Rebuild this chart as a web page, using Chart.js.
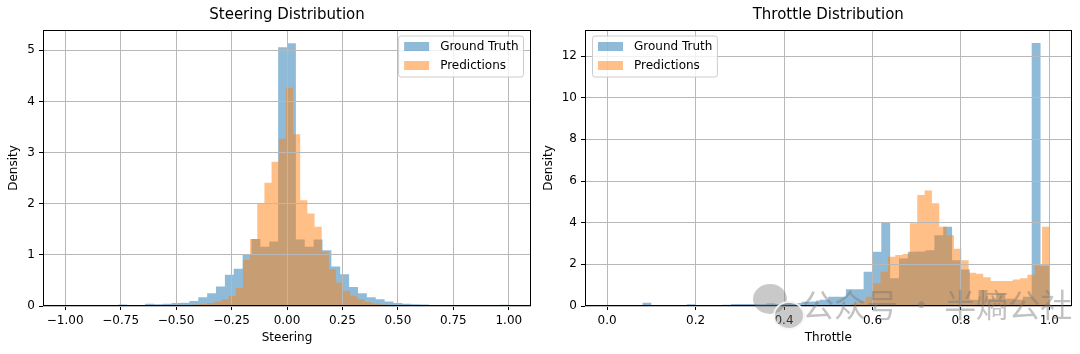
<!DOCTYPE html>
<html><head><meta charset="utf-8">
<script src="https://cdn.jsdelivr.net/npm/chart.js@4.4.0/dist/chart.umd.min.js"></script>
<style>
html,body{margin:0;padding:0;background:#fff;}
#wrap{position:relative;width:1080px;height:354px;overflow:hidden;background:#fff;}
canvas{position:absolute;top:0;}
#c1{left:0px}
#c2{left:540px}
#wm{position:absolute;left:802px;top:285px;font-family:"Noto Sans CJK SC";font-size:32px;line-height:36px;color:rgba(120,120,120,0.45);white-space:nowrap;}
.bub{position:absolute;border-radius:50%;background:rgba(120,120,120,0.4);}
#b1{left:753px;top:284px;width:34px;height:30px;}
#b2{left:773px;top:301px;width:28px;height:25px;border:2px solid rgba(255,255,255,0.85);}
</style></head><body>
<div id="wrap">
<canvas id="c1" width="540" height="354"></canvas>
<canvas id="c2" width="540" height="354"></canvas>
<div class="bub" id="b1"></div><div class="bub" id="b2"></div>
<div id="wm">公众号 · 半熵公社</div>
</div>
<script>
const FONT = '"DejaVu Sans", sans-serif';
const seriesLabels = ['Ground Truth', 'Predictions'];

// ---- Steering histogram (density) ----
const steerTruthStart = -1.0, steerTruthWidth = 0.04;
const steerTruth = [
  0.01, 0.005, 0.01, 0.005, 0.01, 0.01, 0.03, 0.01, 0.01, 0.045,
  0.035, 0.045, 0.06, 0.065, 0.10, 0.17, 0.25, 0.38, 0.61, 0.73,
  1.01, 1.31, 1.16, 1.26, 5.06, 5.14, 1.30, 1.16, 1.30, 1.09,
  0.77, 0.62, 0.37, 0.25, 0.17, 0.13, 0.09, 0.06, 0.045, 0.035,
  0.03, 0.02, 0.02, 0.015, 0.01, 0.005, 0.005, 0.005, 0.01, 0.025
];
const steerPredStart = -0.7472, steerPredWidth = 0.03227;
const steerPred = [
  0.005, 0, 0.005, 0.005, 0.005, 0.01, 0.01, 0.01, 0.015, 0.02,
  0.03, 0.04, 0.06, 0.09, 0.13, 0.20, 0.35, 0.90, 1.31, 2.00,
  2.41, 2.82, 3.27, 4.27, 3.36, 2.07, 1.81, 1.55, 1.06, 0.72,
  0.46, 0.30, 0.20, 0.13, 0.08, 0.05, 0.03, 0.02, 0.015, 0.01,
  0.01, 0.005, 0.005, 0.005, 0, 0.005, 0, 0, 0, 0.005
];
const steerXTicks = [-1, -0.75, -0.5, -0.25, 0, 0.25, 0.5, 0.75, 1];
const steerXLabels = ['\u22121.00', '\u22120.75', '\u22120.50', '\u22120.25', '0.00', '0.25', '0.50', '0.75', '1.00'];
const steerYTicks = [0, 1, 2, 3, 4, 5];
const steerYLabels = ['0', '1', '2', '3', '4', '5'];

// ---- Throttle histogram (density) ----
const throtTruthStart = 0.0, throtTruthWidth = 0.02;
const throtTruth = [
  0.05, 0, 0.03, 0.03, 0.16, 0.03, 0.02, 0.03, 0.03, 0.08,
  0.03, 0.03, 0.05, 0.06, 0.10, 0.10, 0.10, 0.08, 0.12, 0.10,
  0.20, 0.15, 0.20, 0.22, 0.30, 0.45, 0.45, 0.80, 0.80, 1.65,
  2.60, 4.00, 1.33, 2.28, 2.60, 2.62, 2.68, 3.40, 3.80, 2.20,
  1.75, 0.30, 0.77, 0.35, 0.60, 0.35, 0.30, 0.45, 12.62, 1.95
];
const throtPredStart = 0.17, throtPredWidth = 0.0166;
const throtPred = [
  0.02, 0.02, 0.03, 0.02, 0.03, 0.02, 0.03, 0.03, 0.02, 0.03,
  0.03, 0.03, 0.02, 0.03, 0.03, 0.03, 0.03, 0.03, 0.04, 0.04,
  0.04, 0.05, 0.05, 0.10, 0.20, 0.45, 1.09, 1.65, 2.36, 2.45,
  2.50, 3.97, 5.33, 5.54, 4.93, 3.80, 3.40, 2.75, 2.20, 1.60,
  1.55, 1.38, 1.20, 1.20, 1.20, 1.27, 1.33, 1.50, 1.95, 3.80
];
const throtXTicks = [0, 0.2, 0.4, 0.6, 0.8, 1.0];
const throtXLabels = ['0.0', '0.2', '0.4', '0.6', '0.8', '1.0'];
const throtYTicks = [0, 2, 4, 6, 8, 10, 12];
const throtYLabels = ['0', '2', '4', '6', '8', '10', '12'];

const BLUE = 'rgba(31,119,180,0.5)';
const ORANGE = 'rgba(255,127,14,0.5)';

function histPoints(start, width, heights) {
  const pts = heights.map((h, i) => ({x: start + i * width, y: h}));
  pts.push({x: start + heights.length * width, y: heights[heights.length - 1]});
  return pts;
}

const framePlugin = {
  id: 'frame',
  afterDraw(chart) {
    const {ctx, chartArea: a} = chart;
    ctx.save();
    ctx.strokeStyle = '#000';
    ctx.lineWidth = 1;
    const l = Math.round(a.left) + 0.5, r = Math.round(a.right) - 0.5;
    const t = Math.round(a.top) + 0.5, b = Math.round(a.bottom) - 0.5;
    ctx.strokeRect(l, t, r - l, b - t);
    ctx.restore();
  }
};

const legendPlugin = {
  id: 'histLegend',
  afterDraw(chart, args, opts) {
    const {ctx, chartArea: a} = chart;
    const ds = chart.data.datasets;
    ctx.save();
    ctx.font = '12px ' + FONT;
    const textW = Math.max(...ds.map(d => ctx.measureText(d.label).width));
    const w = 41.5 + textW + 5;
    const h = 41;
    const x = opts.corner === 'right' ? a.right - 7.5 - w : a.left + 7.5;
    const y = a.top + 6;
    const rad = 2.5;
    ctx.beginPath();
    ctx.moveTo(x + rad, y);
    ctx.arcTo(x + w, y, x + w, y + h, rad);
    ctx.arcTo(x + w, y + h, x, y + h, rad);
    ctx.arcTo(x, y + h, x, y, rad);
    ctx.arcTo(x, y, x + w, y, rad);
    ctx.closePath();
    ctx.fillStyle = 'rgba(255,255,255,0.8)';
    ctx.fill();
    ctx.strokeStyle = '#cccccc';
    ctx.lineWidth = 1;
    ctx.stroke();
    ds.forEach((d, i) => {
      const ry = y + 6 + i * 19;
      ctx.fillStyle = d.backgroundColor;
      ctx.fillRect(x + 5.5, ry, 25, 9);
      ctx.fillStyle = '#000';
      ctx.textBaseline = 'middle';
      ctx.textAlign = 'left';
      ctx.fillText(d.label, x + 41.5, ry + 4.5);
    });
    ctx.restore();
  }
};

Chart.defaults.font.family = FONT;
Chart.defaults.color = '#000';

function makeChart(canvas, cfg) {
  return new Chart(canvas, {
    type: 'line',
    data: {
      datasets: [
        {label: seriesLabels[0], data: histPoints(cfg.tStart, cfg.tWidth, cfg.truth), order: 1,
         stepped: true, fill: 'origin', backgroundColor: BLUE, borderColor: 'rgba(0,0,0,0)',
         borderWidth: 0, pointRadius: 0, pointHoverRadius: 0, tension: 0},
        {label: seriesLabels[1], data: histPoints(cfg.pStart, cfg.pWidth, cfg.pred), order: 0,
         stepped: true, fill: 'origin', backgroundColor: ORANGE, borderColor: 'rgba(0,0,0,0)',
         borderWidth: 0, pointRadius: 0, pointHoverRadius: 0, tension: 0}
      ]
    },
    options: {
      responsive: false, animation: false, devicePixelRatio: 1, events: [],
      layout: {padding: {left: 0, right: cfg.padRight, top: 0, bottom: 0}},
      plugins: {
        legend: {display: false}, tooltip: {enabled: false},
        title: {display: true, text: cfg.title, color: '#000', fullSize: false,
                font: {family: FONT, size: 15, weight: 'normal'}, padding: {top: 6.5, bottom: 5.5}},
        histLegend: {corner: cfg.legendCorner}
      },
      scales: {
        x: {
          type: 'linear', min: cfg.xMin, max: cfg.xMax,
          afterBuildTicks: s => { s.ticks = cfg.xTicks.map(v => ({value: v})); },
          afterFit: s => { s.height = 48; },
          ticks: {callback: (v) => cfg.xLabels[cfg.xTicks.indexOf(v)], color: '#000',
                  font: {family: FONT, size: 12}, padding: 4, maxRotation: 0, autoSkip: false},
          grid: {color: '#b8b8b8', lineWidth: 1, z: 1, drawTicks: true, tickLength: 4, tickColor: '#000', tickWidth: 1},
          border: {display: false},
          title: {display: true, text: cfg.xTitle, color: '#000', font: {family: FONT, size: 12}, padding: {top: 0, bottom: 9}}
        },
        y: {
          type: 'linear', min: 0, max: cfg.yMax,
          afterBuildTicks: s => { s.ticks = cfg.yTicks.map(v => ({value: v})); },
          afterFit: s => { s.width = cfg.yWidth; },
          ticks: {callback: (v) => cfg.yLabels[cfg.yTicks.indexOf(v)], color: '#000',
                  font: {family: FONT, size: 12}, padding: 4, autoSkip: false},
          grid: {color: '#b8b8b8', lineWidth: 1, z: 1, drawTicks: true, tickLength: 4, tickColor: '#000', tickWidth: 1},
          border: {display: false},
          title: {display: true, text: 'Density', color: '#000', font: {family: FONT, size: 12}, padding: {top: cfg.yTitlePad, bottom: 0}}
        }
      }
    },
    plugins: [framePlugin, legendPlugin]
  });
}

makeChart(document.getElementById('c1'), {
  title: 'Steering Distribution', xTitle: 'Steering',
  truth: steerTruth, tStart: steerTruthStart, tWidth: steerTruthWidth,
  pred: steerPred, pStart: steerPredStart, pWidth: steerPredWidth,
  xMin: -1.1, xMax: 1.1, yMax: 5.397,
  xTicks: steerXTicks, xLabels: steerXLabels, yTicks: steerYTicks, yLabels: steerYLabels,
  yWidth: 43, yTitlePad: 7, padRight: 9, legendCorner: 'right'
});
makeChart(document.getElementById('c2'), {
  title: 'Throttle Distribution', xTitle: 'Throttle',
  truth: throtTruth, tStart: throtTruthStart, tWidth: throtTruthWidth,
  pred: throtPred, pStart: throtPredStart, pWidth: throtPredWidth,
  xMin: -0.05, xMax: 1.05, yMax: 13.25,
  xTicks: throtXTicks, xLabels: throtXLabels, yTicks: throtYTicks, yLabels: throtYLabels,
  yWidth: 45, yTitlePad: 2, padRight: 8.5, legendCorner: 'left'
});
</script>
</body></html>
